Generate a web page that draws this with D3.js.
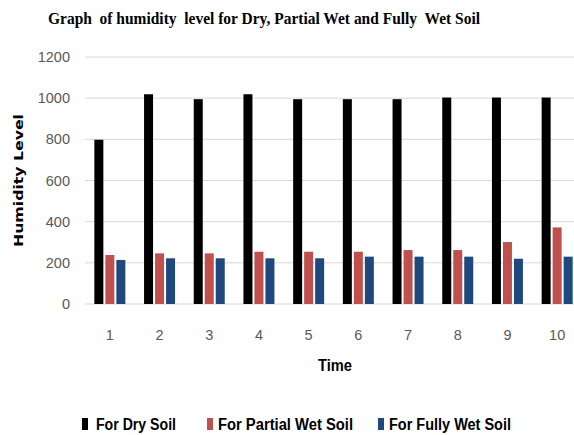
<!DOCTYPE html>
<html>
<head>
<meta charset="utf-8">
<script src="https://cdn.jsdelivr.net/npm/d3@7"></script>
<style>
  body { margin: 0; background: #fff; }
  svg { display: block; }
</style>
</head>
<body>
<div class="chart"></div>
<script>
// values
const times = ['1', '2', '3', '4', '5', '6', '7', '8', '9', '10']
const drySoil = [798, 1019, 995, 1019, 995, 995, 995, 1003, 1003, 1003]
const partialWet = [238, 246, 246, 254, 254, 254, 262, 262, 301, 372]
const fullyWet = [214, 222, 222, 222, 222, 230, 230, 230, 220, 230]
const seriesNames = ['For Dry Soil', 'For Partial Wet Soil', 'For Fully Wet Soil']
const seriesColors = ['#000000', '#c0504d', '#1f497d']
const yTicks = [0, 200, 400, 600, 800, 1000, 1200]

const width = 574
const height = 435
const margin = {top: 57, right: -8, bottom: 131, left: 85}

const svg = d3.select(".chart")
  .append("svg")
    .attr("width", width)
    .attr("height", height)

const x = d3.scaleBand()
  .domain(times)
  .range([margin.left, width - margin.right])

const y = d3.scaleLinear()
  .domain([0, 1200])
  .range([height - margin.bottom, margin.top])

const barW = 9
const barGap = 2
const groupW = barW * 3 + barGap * 2
const inner = d3.scaleBand()
  .domain([0, 1, 2])
  .range([0, groupW])
  .paddingInner(barGap / (barW + barGap))

const tickFont = "Liberation Sans, Arial, sans-serif"

//gridlines
svg.append("g")
  .selectAll("line")
  .data(yTicks)
  .join("line")
    .attr("x1", margin.left)
    .attr("x2", width)
    .attr("y1", d => y(d))
    .attr("y2", d => y(d))
    .attr("stroke", "#d9d9d9")
    .attr("stroke-width", 1)

//y tick labels
svg.append("g")
  .selectAll("text")
  .data(yTicks)
  .join("text")
    .attr("x", 70)
    .attr("y", d => y(d))
    .attr("dy", "0.35em")
    .attr("text-anchor", "end")
    .attr("fill", "#595959")
    .attr("font-family", tickFont)
    .attr("font-size", 14.5)
    .text(d => d)

const rows = times.map((t, i) => ({time: t, values: [drySoil[i], partialWet[i], fullyWet[i]]}))

const groups = svg.append("g")
  .selectAll("g")
  .data(rows)
  .join("g")
    .attr("transform", d => `translate(${x(d.time) + (x.bandwidth() - groupW) / 2},0)`)

groups.selectAll("rect")
  .data(d => d.values.map((v, k) => ({k, v})))
  .join("rect")
    .attr("x", d => inner(d.k))
    .attr("width", inner.bandwidth())
    .attr("y", d => y(d.v))
    .attr("height", d => y(0) - y(d.v))
    .attr("fill", d => seriesColors[d.k])

//x tick labels
svg.append("g")
  .selectAll("text")
  .data(times)
  .join("text")
    .attr("x", d => x(d) + x.bandwidth() / 2)
    .attr("y", 340)
    .attr("text-anchor", "middle")
    .attr("fill", "#595959")
    .attr("font-family", tickFont)
    .attr("font-size", 14.5)
    .text(d => d)

//title
svg.append("text")
  .attr("x", 48)
  .attr("y", 24)
  .attr("textLength", 432)
  .attr("lengthAdjust", "spacingAndGlyphs")
  .attr("font-family", "Liberation Serif, Times New Roman, serif")
  .attr("font-weight", "bold")
  .attr("font-size", 17.5)
  .style("white-space", "pre")
  .text("Graph  of humidity  level for Dry, Partial Wet and Fully  Wet Soil")

//axis titles
svg.append("text")
  .attr("x", 318)
  .attr("y", 371)
  .attr("textLength", 34)
  .attr("lengthAdjust", "spacingAndGlyphs")
  .attr("font-family", tickFont)
  .attr("font-weight", "bold")
  .attr("font-size", 16)
  .text("Time")

svg.append("text")
  .attr("transform", "translate(23,247) rotate(-90)")
  .attr("textLength", 133)
  .attr("lengthAdjust", "spacingAndGlyphs")
  .attr("font-family", "DejaVu Sans, Verdana, sans-serif")
  .attr("font-weight", "bold")
  .attr("font-size", 12.5)
  .text("Humidity Level")

//legend
const legendX = [82, 207, 378]
const legendTextW = [80, 135, 122]
const legend = svg.append("g")
  .selectAll("g")
  .data(seriesNames)
  .join("g")
    .attr("transform", (d, i) => `translate(${legendX[i]},430)`)
legend.append("rect")
  .attr("x", 0)
  .attr("y", -12)
  .attr("width", 6)
  .attr("height", 12)
  .attr("fill", (d, i) => seriesColors[i])
legend.append("text")
  .attr("x", (d, i) => i === 0 ? 14 : 11)
  .attr("y", 0)
  .attr("textLength", (d, i) => legendTextW[i])
  .attr("lengthAdjust", "spacingAndGlyphs")
  .attr("font-family", tickFont)
  .attr("font-weight", "bold")
  .attr("font-size", 16)
  .attr("fill", "#000")
  .text(d => d)
</script>
</body>
</html>
